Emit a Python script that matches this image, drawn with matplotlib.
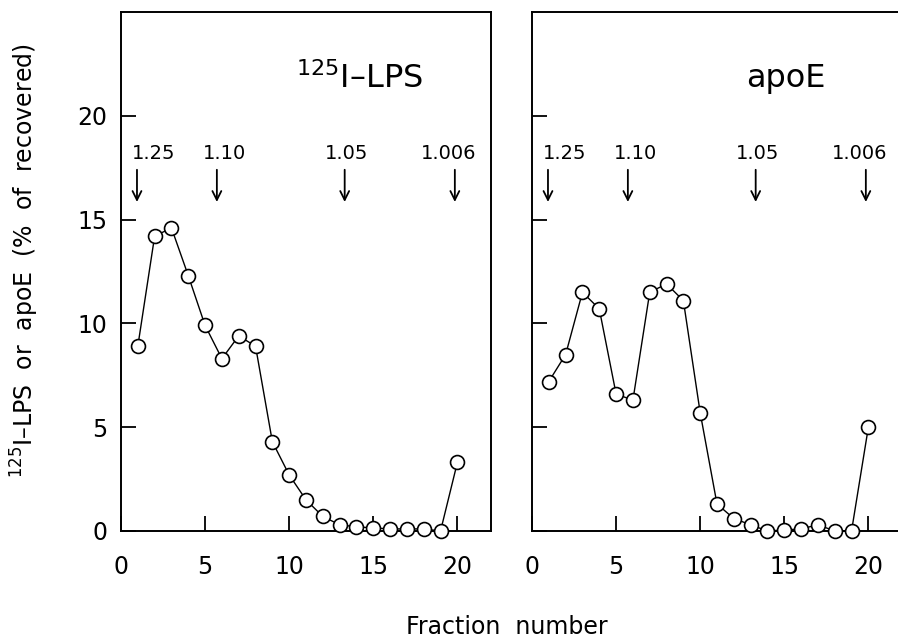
import numpy as np
import matplotlib.pyplot as plt

# Fraction numbers and recovered percentages
fractions = np.arange(1, 21)
lps_values = [8.9, 14.2, 14.6, 12.3, 9.9, 8.3, 9.4, 8.9, 4.3, 2.7,
              1.5, 0.7, 0.3, 0.2, 0.15, 0.1, 0.1, 0.1, 0.0, 3.3]
apoe_values = [7.2, 8.5, 11.5, 10.7, 6.6, 6.3, 11.5, 11.9, 11.1, 5.7,
               1.3, 0.6, 0.3, 0.0, 0.05, 0.1, 0.3, 0.0, 0.0, 5.0]

# Density markers (g/ml)
density_labels = ['1.25', '1.10', '1.05', '1.006']
arrow_x = [0.95, 5.7, 13.3, 19.85]
label_x = [1.95, 6.15, 13.4, 19.5]

panel_titles = ['$^{125}$I\u2013LPS', 'apoE']
title_x = [14.2, 15.1]

fig = plt.figure(figsize=(8.98, 6.41), dpi=100)
ax1 = fig.add_axes([121 / 898, 110 / 641, 370 / 898, 519 / 641])
ax2 = fig.add_axes([532 / 898, 110 / 641, 370 / 898, 519 / 641])

for i, (ax, vals) in enumerate([(ax1, lps_values), (ax2, apoe_values)]):
    ax.plot(fractions, vals, color='black', lw=1.0, marker='o', ms=10,
            mfc='white', mec='black', mew=1.2, clip_on=False, zorder=3)
    ax.set_xlim(0, 22)
    ax.set_ylim(0, 25)
    ax.set_xticks([0, 5, 10, 15, 20])
    ax.set_yticks([0, 5, 10, 15, 20])
    ax.tick_params(direction='in', length=11, width=1.3, labelsize=17, pad=17)
    ax.tick_params(axis='y', pad=10)
    for sp in ax.spines.values():
        sp.set_linewidth(1.4)

    # density arrows
    for lab, ax_x, lx in zip(density_labels, arrow_x, label_x):
        ax.annotate('', xy=(ax_x, 15.85), xytext=(ax_x, 17.4),
                    arrowprops=dict(arrowstyle='->', lw=1.3, color='black',
                                    mutation_scale=16, shrinkA=0, shrinkB=0))
        ax.text(lx, 18.2, lab, ha='center', va='center', fontsize=14)

    ax.text(title_x[i], 21.8, panel_titles[i], ha='center', va='center',
            fontsize=23)

ax2.tick_params(axis='y', labelleft=False)

fig.text(0.028, 0.594, '$^{125}$I\u2013LPS  or  apoE  (%  of  recovered)',
         rotation=90, ha='center', va='center', fontsize=17)
fig.text(0.5646, 0.022, 'Fraction  number', ha='center', va='center',
         fontsize=17)

fig.savefig('out.png', dpi=100)
